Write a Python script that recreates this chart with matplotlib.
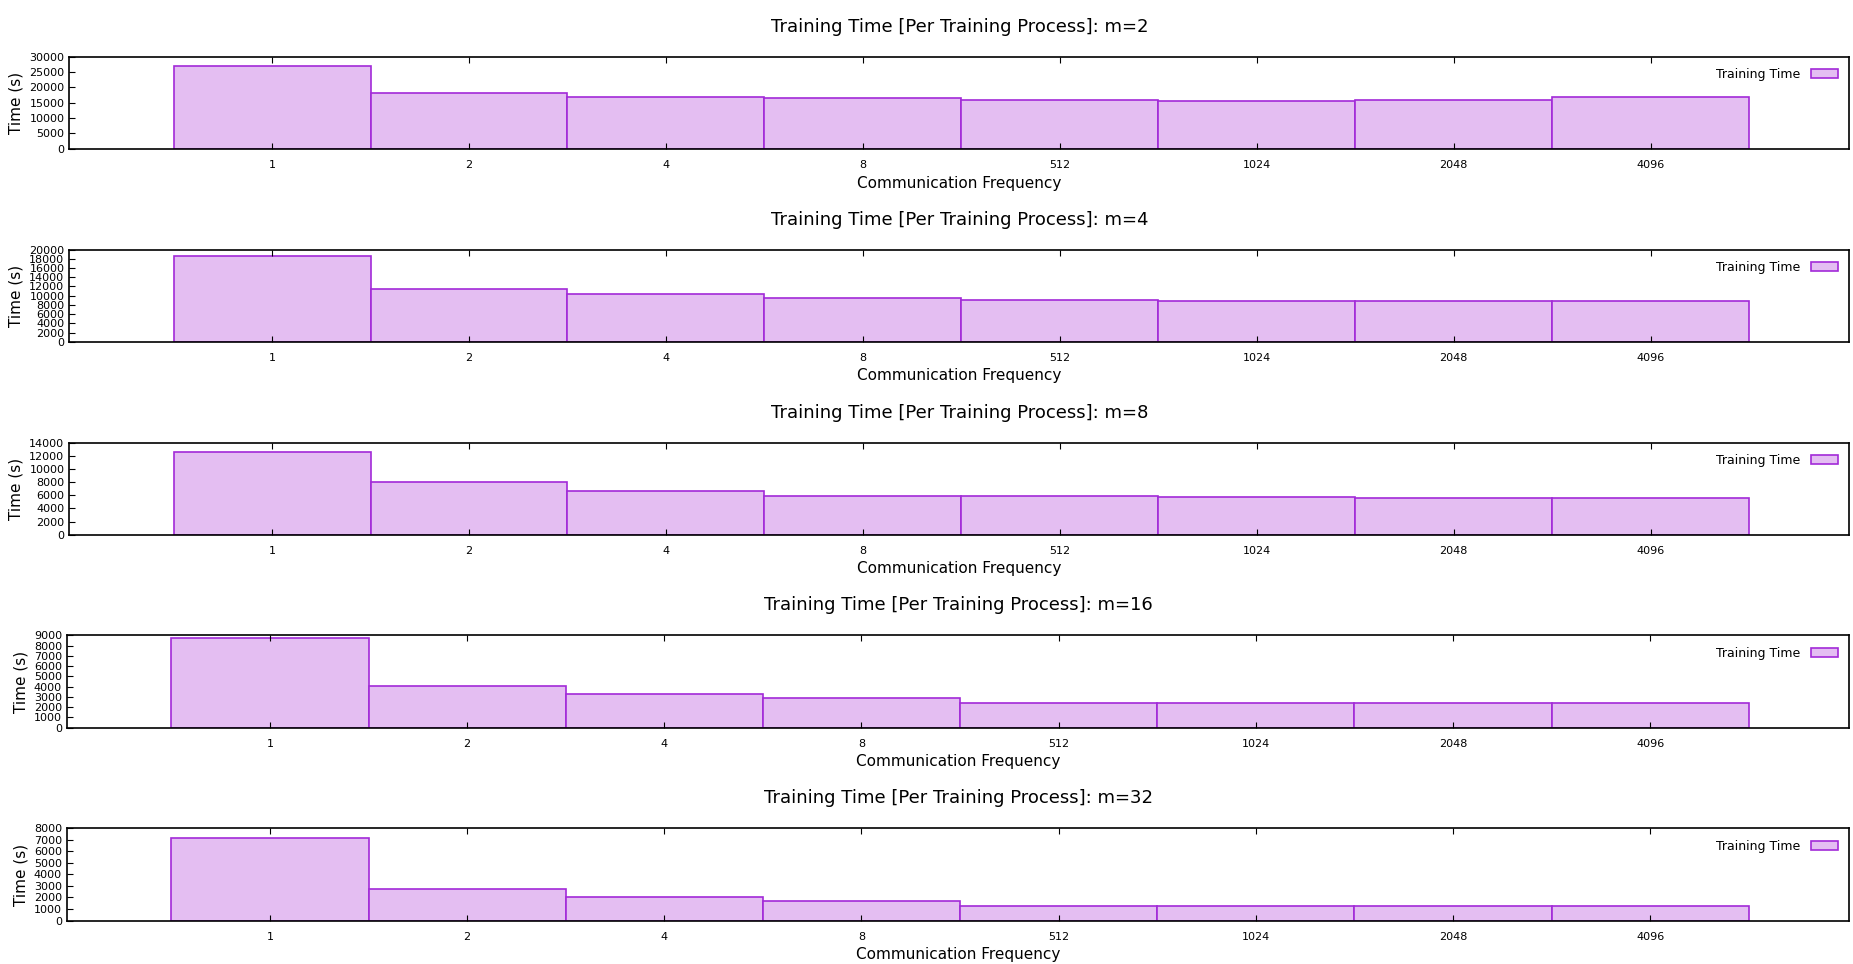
import matplotlib.pyplot as plt
import numpy as np

# Communication frequencies on the x axis
freqs = ["1", "2", "4", "8", "512", "1024", "2048", "4096"]
m_values = [2, 4, 8, 16, 32]

# Training time per process (s)
time_m2 = [27000, 18300, 17000, 16500, 15800, 15500, 15800, 17000]
time_m4 = [18600, 11500, 10300, 9600, 9000, 8800, 8800, 8800]
time_m8 = [12500, 8000, 6700, 5900, 5900, 5800, 5600, 5600]
time_m16 = [8800, 4100, 3300, 2900, 2400, 2400, 2400, 2400]
time_m32 = [7200, 2750, 2050, 1700, 1300, 1300, 1300, 1300]
all_times = [time_m2, time_m4, time_m8, time_m16, time_m32]

y_limits = [30000, 20000, 14000, 9000, 8000]
y_steps = [5000, 2000, 2000, 1000, 1000]

fig = plt.figure(figsize=(18.53, 9.64), dpi=100)
W, H = 1553.0, 816.0
x_pos = np.arange(len(freqs))

for i, (m, times) in enumerate(zip(m_values, all_times)):
    left = 58 if i < 3 else 56
    top = 48 + i * 163.3
    ax = fig.add_axes([left / W, 1 - (top + 78) / H, (1550 - left) / W, 78 / H])
    ax.bar(x_pos, times, width=1.0, color="#e4bef2", edgecolor="#a22ad8",
           linewidth=1.2, label="Training Time")
    ax.set_xlim(-1.03, 8.01)
    ax.set_ylim(0, y_limits[i])
    ax.set_yticks(np.arange(0, y_limits[i] + 1, y_steps[i]))
    ax.set_xticks(x_pos)
    ax.set_xticklabels(freqs)
    ax.tick_params(axis="both", labelsize=8, direction="in", length=4)
    ax.tick_params(axis="x", pad=8, top=True)
    ax.set_ylabel("Time (s)", fontsize=11)
    ax.set_xlabel("Communication Frequency", fontsize=11)
    ax.set_title(f"Training Time [Per Training Process]: m={m}", fontsize=13, pad=18)
    for s in ax.spines.values():
        s.set_linewidth(1.2)
    ax.legend(loc="upper right", frameon=False, fontsize=9, markerfirst=False,
              handlelength=2.2, handleheight=0.7)

fig.savefig("out.png", dpi=100)
